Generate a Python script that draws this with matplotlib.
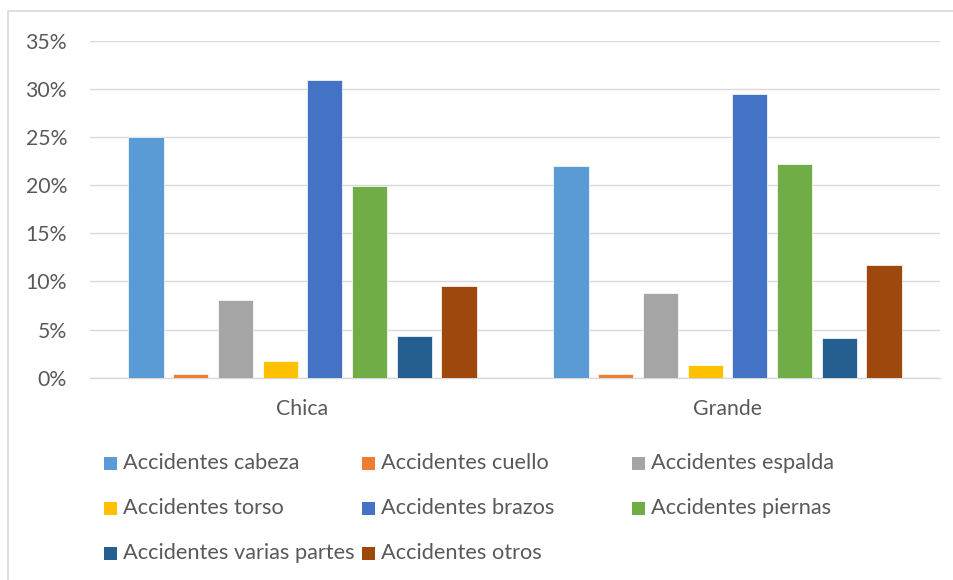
import matplotlib
matplotlib.use("Agg")
import matplotlib.pyplot as plt
from matplotlib.patches import Rectangle
from matplotlib.lines import Line2D
from matplotlib.ticker import MultipleLocator, FuncFormatter
import numpy as np

# Company size groups and share of accidents by body part (%)
categories = ["Chica", "Grande"]

series_names = [
    "Accidentes cabeza",
    "Accidentes cuello",
    "Accidentes espalda",
    "Accidentes torso",
    "Accidentes brazos",
    "Accidentes piernas",
    "Accidentes varias partes",
    "Accidentes otros",
]

cabeza = [25.0, 22.0]
cuello = [0.35, 0.35]
espalda = [8.1, 8.8]
torso = [1.75, 1.3]
brazos = [30.9, 29.45]
piernas = [19.9, 22.2]
varias_partes = [4.3, 4.1]
otros = [9.5, 11.7]

series_values = [cabeza, cuello, espalda, torso, brazos, piernas, varias_partes, otros]

colors = ["#5B9BD5", "#ED7D31", "#A5A5A5", "#FFC000",
          "#4472C4", "#70AD47", "#255E91", "#9E480E"]

TEXT = "#595959"
GRID = "#D9D9D9"
FONT = ["Lato", "DejaVu Sans"]

W, H = 954, 580
fig = plt.figure(figsize=(W / 100, H / 100), dpi=100)
fig.patch.set_facecolor("white")

def fx(px):
    return px / W

def fy(py):
    return (H - py) / H

# plot area
left, right, top, bottom = 90, 940, 40.7, 377.7
ax = fig.add_axes([fx(left), fy(bottom), fx(right - left), (bottom - top) / H])

x = np.arange(len(categories))
slot = 0.1052
bar_w = 0.0825
n = len(series_values)
for i, (vals, col) in enumerate(zip(series_values, colors)):
    offs = (i - (n - 1) / 2) * slot
    ax.bar(x + offs, vals, width=bar_w, color=col, edgecolor="white",
           linewidth=0.5, zorder=3)

ax.set_xlim(-0.5, 1.5)
ax.set_ylim(0, 35)
ax.yaxis.set_major_locator(MultipleLocator(5))
ax.yaxis.set_major_formatter(FuncFormatter(lambda v, p: f"{v:.0f}%"))
ax.grid(axis="y", color=GRID, linewidth=1.0, zorder=0)
ax.set_axisbelow(True)
for s in ["top", "right", "left"]:
    ax.spines[s].set_visible(False)
ax.spines["bottom"].set_color(GRID)
ax.spines["bottom"].set_linewidth(1.0)

ax.set_xticks(x)
ax.set_xticklabels(categories)
ax.tick_params(axis="both", length=0, colors=TEXT, labelsize=15.3)
ax.tick_params(axis="y", pad=16.5)
ax.tick_params(axis="x", pad=15)
for lab in ax.get_xticklabels() + ax.get_yticklabels():
    lab.set_fontfamily(FONT)

# legend laid out in a 3-column grid
col_x = [104, 362, 632]
row_y = [463, 508, 553]
sq = 13
for k, (name, col) in enumerate(zip(series_names, colors)):
    r, c = divmod(k, 3)
    fig.patches.append(Rectangle((fx(col_x[c]), fy(row_y[r] + sq / 2)),
                                 sq / W, sq / H, facecolor=col,
                                 edgecolor="none", transform=fig.transFigure,
                                 figure=fig))
    fig.text(fx(col_x[c] + sq + 6), fy(row_y[r]), name, color=TEXT,
             fontsize=15.7, family=FONT, va="center", ha="left")

# chart frame
fig.add_artist(Line2D([fx(8.5), fx(8.5), fx(954)], [fy(580), fy(11), fy(11)],
                      transform=fig.transFigure, color=GRID, linewidth=1.2))

fig.savefig("out.png", dpi=100, facecolor="white")
